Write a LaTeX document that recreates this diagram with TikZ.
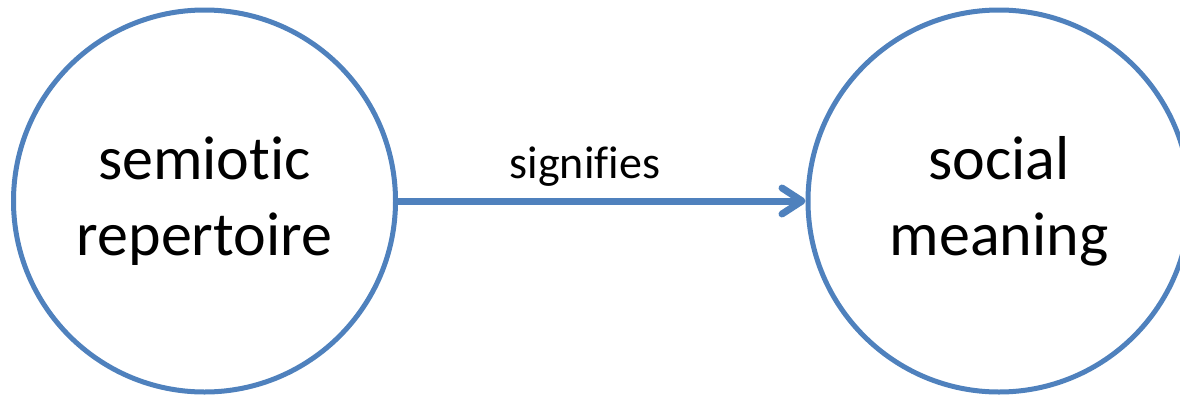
\documentclass[tikz,border=0pt]{standalone}
\usepackage{fontspec}
\setmainfont[Ligatures=CommonOff]{Carlito}
\usepackage{tikz}
\usetikzlibrary{arrows.meta,positioning}
\definecolor{semblue}{HTML}{4F81BD}

\begin{document}
\begin{tikzpicture}[
    x=1pt, y=-1pt,
    concept/.style={draw=semblue, line width=5pt, circle, minimum size=382pt, inner sep=0pt,
        align=center, font=\fontsize{62}{76}\selectfont},
    rel/.style={draw=semblue, line width=7pt, line cap=round,
        -{Straight Barb[length=20pt, width=26pt, line cap=round, line join=round]}},
    lbl/.style={font=\fontsize{46}{55}\selectfont, anchor=base, inner sep=0pt},
]
\useasboundingbox (0,0) rectangle (1180,394);

% the two concepts
\node[concept] (rep) at (204.5,201) {semiotic\\repertoire};
\node[concept] (mean) at (999,201) {social\\meaning};

% the relation between them
\draw[rel] (rep) -- (mean);
\node[lbl] (sig) at (585,178) {signifies};
\end{tikzpicture}
\end{document}
